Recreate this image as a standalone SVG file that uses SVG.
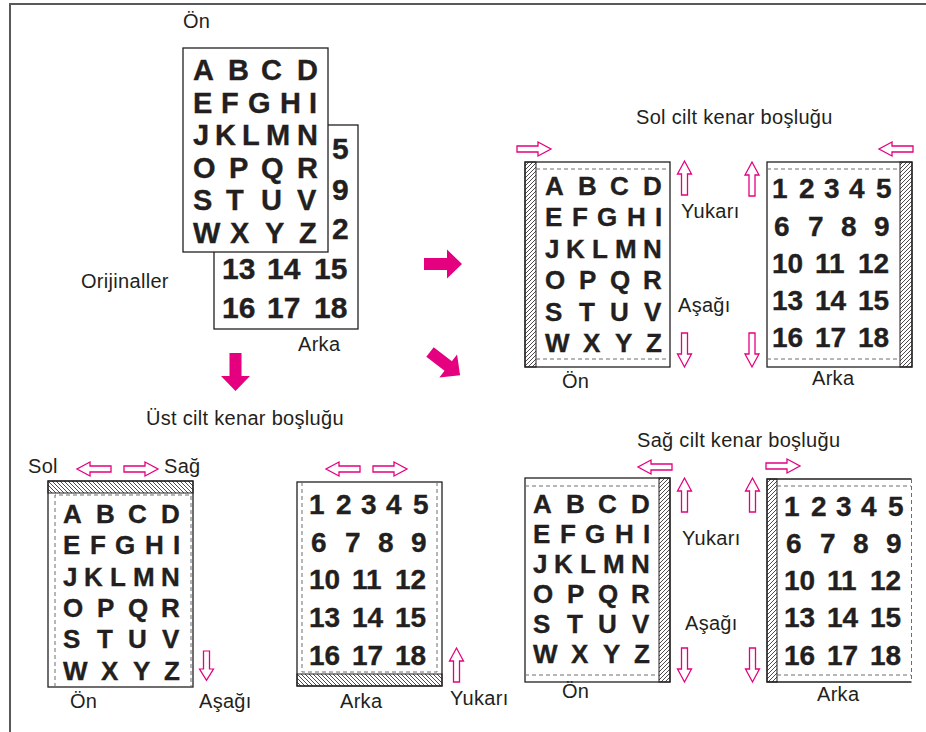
<svg xmlns="http://www.w3.org/2000/svg" xmlns:xlink="http://www.w3.org/1999/xlink" width="926" height="732" viewBox="0 0 926 732">
<style>
.page{fill:#fff;stroke:#231f20;stroke-width:1.3}
.edge{fill:none;stroke:#231f20;stroke-width:1.3}
.strip{stroke:#231f20;stroke-width:1}
.dash{fill:none;stroke:#6d6e71;stroke-width:1;stroke-dasharray:4 3}
.lt{font-family:"Liberation Sans",Arial,Helvetica,sans-serif;font-weight:bold;fill:#231f20;stroke:#231f20;stroke-width:0.35}
.f29{font-size:29px}.f30{font-size:30px}.f26{font-size:26px}.f28{font-size:28px}
.lbl{font-family:"Liberation Sans",Arial,Helvetica,sans-serif;font-size:20px;letter-spacing:0.3px;fill:#231f20}
.oa{fill:#fff;stroke:#e4007f;stroke-width:1.3}
.sa{fill:#e4007f}
</style>
<defs>
<pattern id="hf" width="4" height="4" patternUnits="userSpaceOnUse"><path d="M-1,1 L1,-1 M0,4 L4,0 M3,5 L5,3" stroke="#231f20" stroke-width="0.8"/></pattern>
<pattern id="hb" width="4" height="4" patternUnits="userSpaceOnUse"><path d="M-1,3 L1,5 M0,0 L4,4 M3,-1 L5,1" stroke="#231f20" stroke-width="0.8"/></pattern>
<path id="oarr" d="M0,-3 H21 V-7 L34,0 L21,7 V3 H0 Z"/>
<path id="sarr" d="M0,-6 H23 V-14.5 L38,0 L23,14.5 V6 H0 Z"/>
</defs>
<rect width="926" height="732" fill="#fff"/>
<path d="M10,732 V4 H926" fill="none" stroke="#58595b" stroke-width="2"/>

<!-- Originals: back page (only the visible part of the numbers) -->
<g id="orig-back" transform="translate(214,125)">
<rect class="page" width="144" height="204"/>
<g class="lt f30">
<text x="118" y="34">5</text>
<text x="118" y="75">9</text>
<text x="118" y="114">2</text>
<text y="154"><tspan x="8">13</tspan> <tspan x="53">14</tspan> <tspan x="100">15</tspan></text>
<text y="193"><tspan x="8">16</tspan> <tspan x="53">17</tspan> <tspan x="100">18</tspan></text>
</g>
</g>
<!-- Originals: front page -->
<g id="orig-front" transform="translate(183,48)">
<rect class="page" width="145" height="204"/>
<g class="lt f29">
<text x="10 45 45 78 78 114 114" y="32">A B C D</text>
<text x="10 38 38 65 65 97 97 126 126" y="64.5">E F G H I</text>
<text x="10 32 32 59 59 83 83 114 114" y="97">J K L M N</text>
<text x="10 46 46 78 78 114 114" y="129.5">O P Q R</text>
<text x="10 43 43 78 78 114 114" y="162">S T U V</text>
<text x="10 47 47 82 82 116 116" y="194.5">W X Y Z</text>
</g>
</g>

<!-- Sol cilt: front -->
<g id="sol-front" transform="translate(525,162)">
<rect class="page" width="145" height="205"/>
<rect class="strip" width="11" height="205" fill="url(#hf)"/>
<path class="dash" d="M11,7 H145 M11,197 H145"/>
<g class="lt f26" transform="translate(20,33)">
<text x="0 33 33 65 65 98 98" y="0">A B C D</text>
<text x="0 27 27 52 52 82 82 110 110" y="31.4">E F G H I</text>
<text x="0 21 21 47 47 70 70 98 98" y="62.8">J K L M N</text>
<text x="0 34 34 65 65 98 98" y="94.2">O P Q R</text>
<text x="0 34 34 65 65 99 99" y="125.6">S T U V</text>
<text x="0 38 38 70 70 101 101" y="157">W X Y Z</text>
</g>
</g>
<!-- Sol cilt: back -->
<g id="sol-back" transform="translate(767,162)">
<rect class="page" width="145" height="205"/>
<rect class="strip" x="133" width="12" height="205" fill="url(#hf)"/>
<path class="dash" d="M0,7 H133 M0,197 H133"/>
<g class="lt f28" transform="translate(5,36)">
<text x="0 27 27 52 52 77 77 104 104" y="0">1 2 3 4 5</text>
<text x="2 36 36 69 69 102 102" y="38">6 7 8 9</text>
<text y="74.5"><tspan x="0">10</tspan> <tspan x="43">11</tspan> <tspan x="86">12</tspan></text>
<text y="111.5"><tspan x="0">13</tspan> <tspan x="43">14</tspan> <tspan x="86">15</tspan></text>
<text y="149"><tspan x="0">16</tspan> <tspan x="43">17</tspan> <tspan x="86">18</tspan></text>
</g>
</g>

<!-- Üst cilt: front -->
<g id="ust-front" transform="translate(48,481)">
<rect class="page" width="145" height="206"/>
<rect class="strip" width="145" height="12" fill="url(#hb)"/>
<path class="dash" d="M7,206 V14 H143 V206"/>
<g class="lt f26" transform="translate(15,42)">
<text x="0 33 33 65 65 98 98" y="0">A B C D</text>
<text x="0 27 27 52 52 82 82 110 110" y="31.3">E F G H I</text>
<text x="0 21 21 47 47 70 70 98 98" y="62.6">J K L M N</text>
<text x="0 34 34 65 65 98 98" y="93.9">O P Q R</text>
<text x="0 34 34 65 65 99 99" y="125.2">S T U V</text>
<text x="0 38 38 70 70 101 101" y="156.5">W X Y Z</text>
</g>
</g>
<!-- Üst cilt: back -->
<g id="ust-back" transform="translate(297,482)">
<rect class="page" width="145" height="204"/>
<rect class="strip" y="192" width="145" height="12" fill="url(#hb)"/>
<path class="dash" d="M5,0 V190 H140 V0"/>
<g class="lt f28" transform="translate(12,32)">
<text x="0 27 27 52 52 77 77 104 104" y="0">1 2 3 4 5</text>
<text x="2 36 36 69 69 102 102" y="38">6 7 8 9</text>
<text y="75"><tspan x="0">10</tspan> <tspan x="43">11</tspan> <tspan x="86">12</tspan></text>
<text y="113"><tspan x="0">13</tspan> <tspan x="43">14</tspan> <tspan x="86">15</tspan></text>
<text y="151"><tspan x="0">16</tspan> <tspan x="43">17</tspan> <tspan x="86">18</tspan></text>
</g>
</g>

<!-- Sağ cilt: front -->
<g id="sag-front" transform="translate(525,478)">
<rect class="page" width="145" height="204"/>
<rect class="strip" x="134" width="11" height="204" fill="url(#hf)"/>
<path class="dash" d="M0,8 H134 M0,197 H134"/>
<g class="lt f26" transform="translate(8,35)">
<text x="0 33 33 65 65 98 98" y="0">A B C D</text>
<text x="0 27 27 52 52 82 82 110 110" y="30">E F G H I</text>
<text x="0 21 21 47 47 70 70 98 98" y="60">J K L M N</text>
<text x="0 34 34 65 65 98 98" y="90">O P Q R</text>
<text x="0 34 34 65 65 99 99" y="120">S T U V</text>
<text x="0 38 38 70 70 101 101" y="150">W X Y Z</text>
</g>
</g>
<!-- Sağ cilt: back -->
<g id="sag-back" transform="translate(767,479)">
<rect width="145" height="203" fill="#fff"/>
<path class="edge" d="M144.5,0 H0 V203 H144.5"/>
<rect class="strip" width="10" height="203" fill="url(#hf)"/>
<path class="dash" d="M10,7 H144 M10,196 H144 M144.5,0 V203"/>
<g class="lt f28" transform="translate(17,37)">
<text x="0 27 27 52 52 77 77 104 104" y="0">1 2 3 4 5</text>
<text x="2 36 36 69 69 102 102" y="37">6 7 8 9</text>
<text y="74"><tspan x="0">10</tspan> <tspan x="43">11</tspan> <tspan x="86">12</tspan></text>
<text y="111"><tspan x="0">13</tspan> <tspan x="43">14</tspan> <tspan x="86">15</tspan></text>
<text y="149"><tspan x="0">16</tspan> <tspan x="43">17</tspan> <tspan x="86">18</tspan></text>
</g>
</g>

<!-- direction indicators (outlined arrows) -->
<g id="indicators" class="oa">
<use xlink:href="#oarr" href="#oarr" transform="translate(517,149)"/>
<use xlink:href="#oarr" href="#oarr" transform="translate(684.5,195) rotate(-90)"/>
<use xlink:href="#oarr" href="#oarr" transform="translate(684.5,333) rotate(90)"/>
<use xlink:href="#oarr" href="#oarr" transform="translate(913,149) rotate(180)"/>
<use xlink:href="#oarr" href="#oarr" transform="translate(752,196) rotate(-90)"/>
<use xlink:href="#oarr" href="#oarr" transform="translate(752,333) rotate(90)"/>
<use xlink:href="#oarr" href="#oarr" transform="translate(111,469) rotate(180)"/>
<use xlink:href="#oarr" href="#oarr" transform="translate(124,469)"/>
<use xlink:href="#oarr" href="#oarr" transform="translate(206.5,651) rotate(90) scale(0.86,1)"/>
<use xlink:href="#oarr" href="#oarr" transform="translate(360,469) rotate(180)"/>
<use xlink:href="#oarr" href="#oarr" transform="translate(373,469)"/>
<use xlink:href="#oarr" href="#oarr" transform="translate(456.5,682) rotate(-90)"/>
<use xlink:href="#oarr" href="#oarr" transform="translate(672,467) rotate(180)"/>
<use xlink:href="#oarr" href="#oarr" transform="translate(684.5,512) rotate(-90)"/>
<use xlink:href="#oarr" href="#oarr" transform="translate(684.5,648) rotate(90)"/>
<use xlink:href="#oarr" href="#oarr" transform="translate(766,466)"/>
<use xlink:href="#oarr" href="#oarr" transform="translate(752.5,512) rotate(-90)"/>
<use xlink:href="#oarr" href="#oarr" transform="translate(752.5,648) rotate(90)"/>
</g>

<!-- connectors (solid arrows) -->
<g id="connectors" class="sa">
<use xlink:href="#sarr" href="#sarr" transform="translate(424,264)"/>
<use xlink:href="#sarr" href="#sarr" transform="translate(430,352) rotate(37.7)"/>
<use xlink:href="#sarr" href="#sarr" transform="translate(235.5,353) rotate(90)"/>
</g>

<!-- labels -->
<g id="labels" class="lbl">
<text x="183" y="28">Ön</text>
<text x="298" y="351">Arka</text>
<text x="81" y="288">Orijinaller</text>
<text x="636" y="124">Sol cilt kenar boşluğu</text>
<text x="681" y="218">Yukarı</text>
<text x="678" y="312">Aşağı</text>
<text x="562" y="388">Ön</text>
<text x="812" y="385">Arka</text>
<text x="146" y="425">Üst cilt kenar boşluğu</text>
<text x="28" y="473">Sol</text>
<text x="164" y="473">Sağ</text>
<text x="70" y="708">Ön</text>
<text x="199" y="708">Aşağı</text>
<text x="340" y="708">Arka</text>
<text x="450" y="705">Yukarı</text>
<text x="637" y="447">Sağ cilt kenar boşluğu</text>
<text x="682" y="545">Yukarı</text>
<text x="685" y="630">Aşağı</text>
<text x="562" y="698">Ön</text>
<text x="817" y="701">Arka</text>
</g>
</svg>
